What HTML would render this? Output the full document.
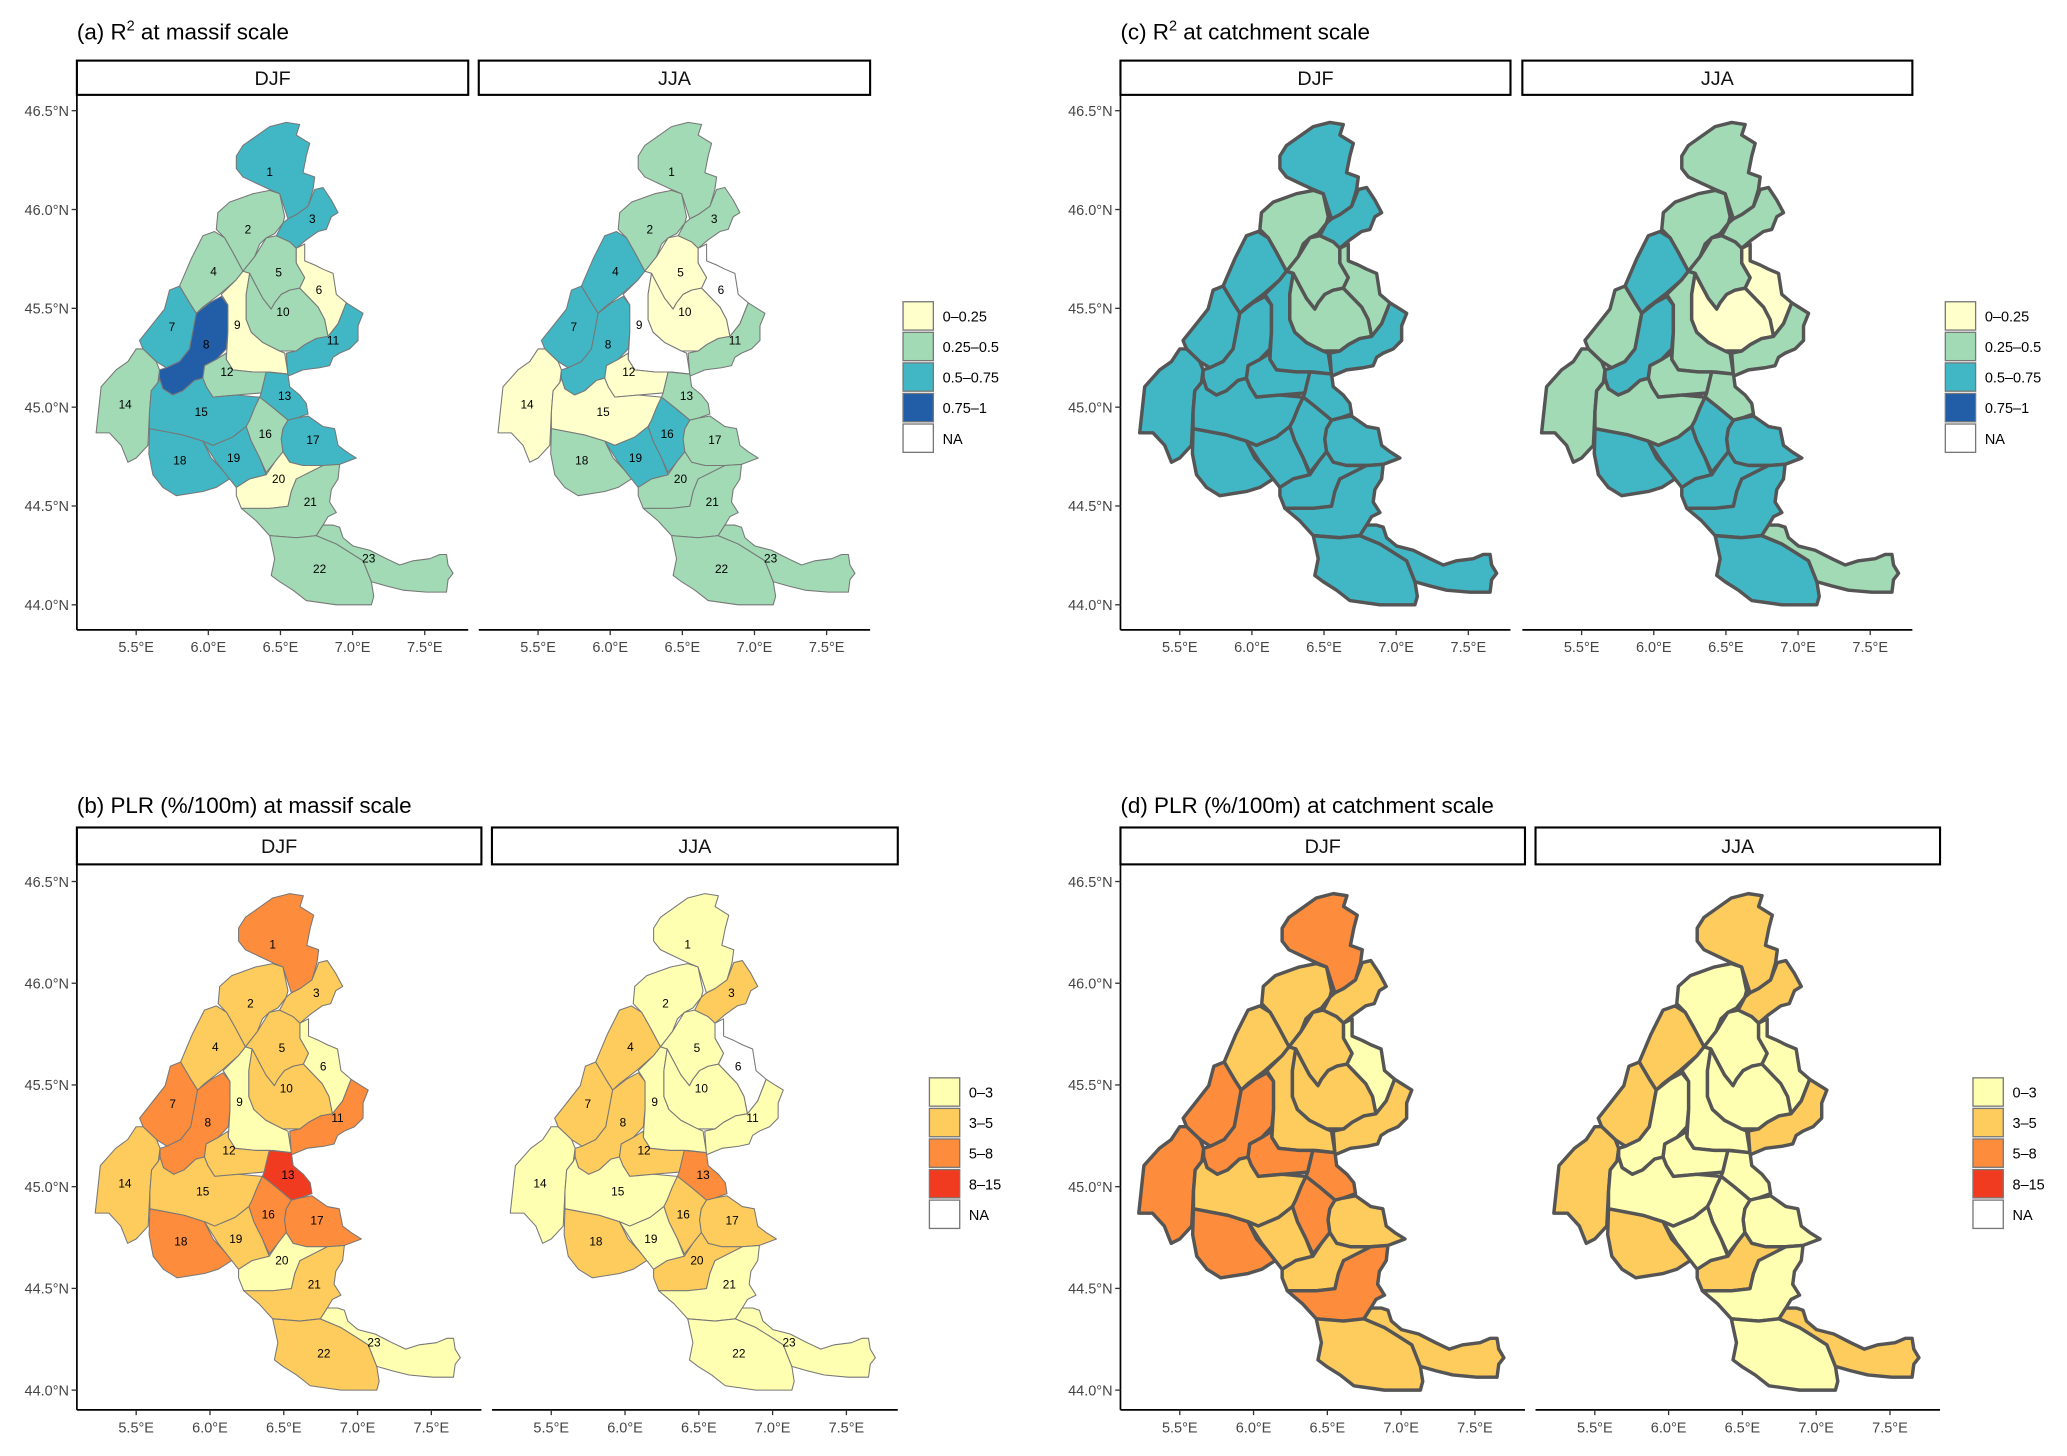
<!DOCTYPE html>
<html><head><meta charset="utf-8"><style>
html,body{margin:0;padding:0;background:#fff}
svg{display:block;font-family:"Liberation Sans",sans-serif}
</style></head><body>
<svg id="fig" width="2067" height="1456" viewBox="0 0 1568 1105" xmlns="http://www.w3.org/2000/svg"></svg>
<script>
// ===== data: class index per massif 1..23 (null = NA) =====
const massifIds = [1,2,3,4,5,6,7,8,9,10,11,12,13,14,15,16,17,18,19,20,21,22,23];
const r2MassifDJF = [2,1,2,1,1,0,2,3,0,1,2,1,2,1,2,1,2,2,2,0,1,1,1];
const r2MassifJJA = [1,1,1,2,0,null,2,2,null,0,1,0,1,0,0,2,1,1,2,1,1,1,1];
const plrMassifDJF = [2,1,1,1,1,0,2,2,0,1,2,1,3,1,1,2,2,2,1,0,1,1,0];
const plrMassifJJA = [0,0,1,1,0,null,1,1,0,0,0,1,2,0,0,1,1,1,0,1,0,0,0];
const r2CatchDJF = [2,1,2,2,1,1,2,2,2,1,2,2,2,2,2,2,2,2,2,2,2,2,2];
const r2CatchJJA = [1,1,1,2,1,0,1,2,1,0,1,1,1,1,1,2,2,2,2,2,2,2,1];
const plrCatchDJF = [2,1,1,1,1,0,2,2,1,1,1,2,2,2,1,2,1,2,1,1,2,1,1];
const plrCatchJJA = [1,0,1,1,0,0,1,0,0,0,1,0,0,1,0,0,0,1,0,1,0,0,1];
const r2Labels = ["0\u20130.25","0.25\u20130.5","0.5\u20130.75","0.75\u20131","NA"];
const plrLabels = ["0\u20133","3\u20135","5\u20138","8\u201315","NA"];
const r2Colors = ["#FFFFCC","#A1DAB4","#41B6C4","#225EA8"];
const plrColors = ["#FFFFB2","#FECC5C","#FD8D3C","#F03B20"];
const lonTicks = [5.5,6.0,6.5,7.0,7.5];
const latTicks = [46.5,46.0,45.5,45.0,44.5,44.0];

// ===== geometry (traced outline coords, converted to lon/lat) =====
const G = {
1:[[700,370],[720,345],[800,300],[850,290],[890,295],[880,320],[920,340],[910,370],[900,410],[935,420],[930,450],[915,490],[880,510],[855,520],[830,460],[800,450],[760,435],[720,420],[700,400]],
2:[[645,505],[680,480],[750,460],[800,452],[830,460],[845,515],[840,530],[815,555],[790,565],[770,580],[755,610],[720,645],[690,600],[665,565],[640,545]],
3:[[855,520],[880,510],[915,490],[935,450],[960,445],[985,475],[1005,505],[985,515],[970,545],[945,550],[910,570],[880,590],[860,575],[820,560],[840,530]],
4:[[530,680],[565,615],[600,560],[635,550],[665,565],[690,600],[720,645],[700,665],[650,700],[600,730],[580,745],[560,720]],
5:[[720,645],[755,610],[790,565],[820,560],[860,575],[880,590],[880,625],[905,660],[890,685],[860,690],[835,700],[815,720],[805,735],[780,710],[760,680],[740,650]],
6:[[880,590],[905,580],[905,620],[935,630],[960,640],[990,650],[1000,700],[1030,720],[1005,770],[975,800],[965,760],[945,730],[890,685],[905,660],[880,625]],
7:[[410,810],[445,775],[485,735],[500,690],[530,680],[560,720],[580,745],[570,790],[560,830],[530,860],[490,875],[460,860],[420,830]],
8:[[470,880],[490,875],[530,860],[560,830],[580,745],[620,720],[655,705],[675,725],[675,790],[670,830],[640,855],[605,870],[600,900],[575,905],[540,930],[510,940],[480,925],[470,900]],
9:[[655,700],[700,665],[720,645],[740,650],[730,700],[730,760],[745,790],[780,815],[830,835],[845,840],[855,890],[800,885],[750,885],[690,880],[670,855],[675,790],[675,725]],
10:[[740,650],[760,680],[780,710],[805,735],[815,720],[835,700],[860,690],[890,685],[945,730],[965,760],[975,800],[940,805],[905,820],[880,835],[830,835],[780,815],[745,790],[730,760],[730,700]],
11:[[850,840],[880,835],[905,820],[940,805],[975,800],[1005,770],[1030,720],[1050,730],[1080,745],[1065,775],[1065,810],[1040,830],[1010,840],[990,850],[980,870],[950,875],[900,880],[855,895]],
12:[[600,900],[605,870],[640,855],[670,840],[670,855],[690,880],[750,885],[790,885],[775,935],[700,940],[630,945],[610,920]],
13:[[775,935],[790,885],[855,890],[860,920],[890,940],[910,960],[915,985],[880,995],[855,1000],[810,970],[770,945]],
14:[[280,1030],[295,920],[340,880],[375,860],[400,830],[420,830],[460,860],[470,880],[465,910],[445,930],[440,980],[435,1060],[400,1090],[375,1100],[355,1060],[320,1030]],
15:[[445,930],[465,910],[470,900],[480,925],[510,940],[540,930],[575,905],[600,900],[610,920],[630,945],[700,940],[770,945],[755,970],[740,1000],[730,1015],[690,1040],[630,1060],[600,1050],[540,1035],[440,1020],[440,980]],
16:[[730,1015],[740,1000],[755,970],[770,945],[810,970],[855,1000],[840,1020],[835,1045],[840,1075],[815,1100],[790,1125],[770,1090],[745,1050]],
17:[[840,1020],[855,1000],[880,995],[915,990],[960,1015],[995,1020],[1005,1060],[1030,1075],[1060,1090],[1010,1105],[960,1108],[900,1108],[860,1100],[840,1075],[835,1045]],
18:[[440,1020],[540,1035],[600,1050],[625,1090],[660,1120],[680,1140],[640,1160],[600,1170],[520,1180],[480,1160],[450,1130],[438,1080]],
19:[[600,1050],[630,1060],[690,1040],[730,1015],[745,1050],[770,1090],[790,1130],[740,1140],[700,1160],[680,1140],[640,1100]],
20:[[700,1160],[740,1140],[790,1130],[815,1100],[840,1075],[860,1100],[900,1108],[960,1108],[920,1130],[880,1140],[865,1170],[855,1205],[800,1210],[740,1210],[715,1210],[700,1180]],
21:[[715,1210],[800,1210],[855,1205],[865,1170],[880,1140],[960,1108],[1010,1105],[1005,1140],[985,1165],[980,1195],[1000,1220],[975,1230],[960,1250],[940,1275],[880,1280],[800,1275],[760,1240]],
22:[[800,1275],[880,1280],[940,1275],[1000,1295],[1040,1315],[1080,1335],[1105,1385],[1112,1420],[1105,1440],[1000,1440],[910,1430],[870,1405],[830,1385],[805,1370],[815,1330]],
23:[[940,1275],[960,1250],[990,1250],[1010,1255],[1020,1280],[1050,1300],[1100,1310],[1150,1330],[1190,1345],[1230,1335],[1280,1330],[1310,1320],[1330,1320],[1335,1345],[1350,1365],[1335,1380],[1330,1410],[1270,1410],[1200,1405],[1150,1395],[1105,1385],[1080,1335],[1040,1315],[1000,1295]]
};
const LBL = {1:[800,408],2:[735,545],3:[928,520],4:[632,645],5:[827,648],6:[948,690],7:[507,778],8:[610,820],9:[703,773],10:[840,742],11:[990,810],12:[672,885],13:[845,942],14:[367,962],15:[595,980],16:[787,1033],17:[930,1047],18:[531,1096],19:[692,1090],20:[827,1140],21:[922,1195],22:[950,1355],23:[1097,1330]};
function toLon(xz){return 5.5+(xz-400)/432.5;}
function toLat(yz){return 46.5-(yz-262)/471.2;}

const NS="http://www.w3.org/2000/svg";
const svg=document.getElementById('fig');
function mk(tag,attrs,parent){const e=document.createElementNS(NS,tag);for(const k in attrs)e.setAttribute(k,attrs[k]);(parent||svg).appendChild(e);return e;}

function facet(opt){
  // opt: left,right,top(strip top),stripH,bottom,x0,kx,y0,ky,label,values,colors,labels,catch,showY,name
  const g=mk('g',{});
  
  
  const sx=lon=>opt.x0+(lon-5.5)*opt.kx;
  const sy=lat=>opt.y0+(46.5-lat)*opt.ky;
  const strip=mk('rect',{x:opt.left,y:opt.top,width:opt.right-opt.left,height:opt.stripH,fill:'#fff',stroke:'#000','stroke-width':1.6},g);
  
  
  const st=mk('text',{x:(opt.left+opt.right)/2,y:opt.top+opt.stripH/2+5.5,'text-anchor':'middle','font-size':15,fill:'#111'},g);
  st.textContent=opt.label;
  
  
  massifIds.forEach((id,i)=>{
    const v=opt.values[i];
    const pts=G[id].map(p=>sx(toLon(p[0])).toFixed(1)+','+sy(toLat(p[1])).toFixed(1)).join(' ');
    const poly=mk('polygon',{points:pts,fill:v===null?'#fff':opt.colors[v],stroke:opt.catch?'#555':'#777','stroke-width':opt.catch?2.6:0.8,'stroke-linejoin':'round'},g);
    
    
    if(!opt.catch){
      const t=mk('text',{x:sx(toLon(LBL[id][0])),y:sy(toLat(LBL[id][1]))+3,'text-anchor':'middle','font-size':9,fill:'#000'},g);
      t.textContent=id;
      
      
    }
  });
  const bx=mk('line',{x1:opt.left,x2:opt.right,y1:opt.bottom,y2:opt.bottom,stroke:'#000','stroke-width':1.3},g);
  
  
  lonTicks.forEach(l=>{
    const x=sx(l);
    mk('line',{x1:x,x2:x,y1:opt.bottom,y2:opt.bottom+4,stroke:'#333','stroke-width':1},g);
    const t=mk('text',{x:x,y:opt.bottom+17,'text-anchor':'middle','font-size':11,fill:'#444'},g);
    t.textContent=l.toFixed(1)+'\u00B0E';
    
    
  });
  if(opt.showY){
    const by=mk('line',{x1:opt.left,x2:opt.left,y1:opt.top+opt.stripH,y2:opt.bottom,stroke:'#000','stroke-width':1.3},g);
    
    
    latTicks.forEach(l=>{
      const y=sy(l);
      mk('line',{x1:opt.left-4,x2:opt.left,y1:y,y2:y,stroke:'#333','stroke-width':1},g);
      const t=mk('text',{x:opt.left-6,y:y+4,'text-anchor':'end','font-size':11,fill:'#444'},g);
      t.textContent=l.toFixed(1)+'\u00B0N';
      
      
    });
  }
}
function legend(x,y,colors,labels,name){
  const g=mk('g',{});
  
  
  labels.forEach((lab,i)=>{
    const r=mk('rect',{x:x,y:y+i*23.2,width:23,height:21.5,fill:i<4?colors[i]:'#fff',stroke:'#777','stroke-width':1},g);
    
    
    const t=mk('text',{x:x+30,y:y+i*23.2+15,'font-size':11,fill:'#000'},g);
    t.textContent=lab;
    
    
  });
}
function title(x,y,html,name){
  const t=mk('text',{x:x,y:y,'font-size':17,fill:'#000'});
  t.innerHTML=html;
  
  
}
title(58,30,'(a) R<tspan font-size="11" dy="-7">2</tspan><tspan dy="7"> at massif scale</tspan>','title-a');
title(850,30,'(c) R<tspan font-size="11" dy="-7">2</tspan><tspan dy="7"> at catchment scale</tspan>','title-c');
title(58,617,'(b) PLR (%/100m) at massif scale','title-b');
title(850,617,'(d) PLR (%/100m) at catchment scale','title-d');

const top1={top:46,stripH:26,bottom:478,x0:0,kx:109.5,y0:84,ky:150};
facet(Object.assign({},top1,{left:58,right:355,x0:103,label:'DJF',values:r2MassifDJF,colors:r2Colors,catch:false,showY:true,name:'panel-a-djf'}));
facet(Object.assign({},top1,{left:363,right:660,x0:408,label:'JJA',values:r2MassifJJA,colors:r2Colors,catch:false,showY:false,name:'panel-a-jja'}));
facet(Object.assign({},top1,{left:850,right:1146,x0:895,label:'DJF',values:r2CatchDJF,colors:r2Colors,catch:true,showY:true,name:'panel-c-djf'}));
facet(Object.assign({},top1,{left:1155,right:1451,x0:1200,label:'JJA',values:r2CatchJJA,colors:r2Colors,catch:true,showY:false,name:'panel-c-jja'}));
const bot={top:628,stripH:28,bottom:1070,kx:112,y0:669,ky:154.4};
facet(Object.assign({},bot,{left:58,right:365,x0:103,label:'DJF',values:plrMassifDJF,colors:plrColors,catch:false,showY:true,name:'panel-b-djf'}));
facet(Object.assign({},bot,{left:373,right:681,x0:418,label:'JJA',values:plrMassifJJA,colors:plrColors,catch:false,showY:false,name:'panel-b-jja'}));
facet(Object.assign({},bot,{left:850,right:1157,x0:895,label:'DJF',values:plrCatchDJF,colors:plrColors,catch:true,showY:true,name:'panel-d-djf'}));
facet(Object.assign({},bot,{left:1165,right:1472,x0:1210,label:'JJA',values:plrCatchJJA,colors:plrColors,catch:true,showY:false,name:'panel-d-jja'}));
legend(685,229,r2Colors,r2Labels,'legend-a');
legend(1476,229,r2Colors,r2Labels,'legend-c');
legend(705,818,plrColors,plrLabels,'legend-b');
legend(1497,818,plrColors,plrLabels,'legend-d');
</script>
</body></html>
